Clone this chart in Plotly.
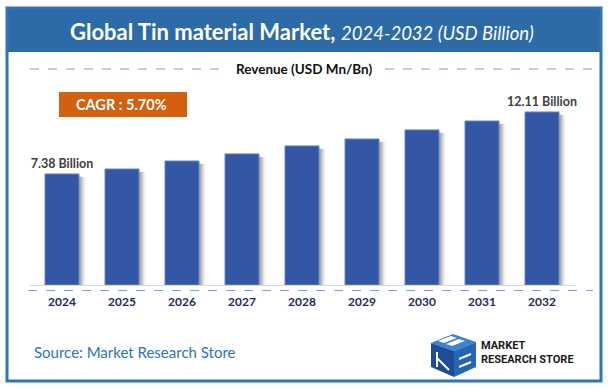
import plotly.graph_objects as go

# ---- data ----
years = ["2024", "2025", "2026", "2027", "2028", "2029", "2030", "2031", "2032"]
revenue = [7.38, 7.76, 8.37, 8.91, 9.52, 10.05, 10.74, 11.42, 12.11]
label_years = ["2024", "2032"]
cagr_text = "CAGR : 5.70%"
title_main = "Global Tin material Market,"
title_sub = "2024-2032 (USD Billion)"
axis_title = "Revenue (USD Mn/Bn)"
source_text = "Source: Market Research Store"

W, H = 608, 389
AXIS_MIN = -1.09
AXIS_MAX = 13.02
BAR_W = 0.567

def px(x):
    return x / W

def py(y):
    return 1 - y / H

labels = [f"{v:.2f} Billion" if y in label_years else "" for y, v in zip(years, revenue)]
lengths = [v - AXIS_MIN for v in revenue]

fig = go.Figure()

# soft shadows on the right side of each bar
for d, col in [(6.5 / 60, "rgba(0,0,0,0.06)"), (4.5 / 60, "rgba(0,0,0,0.12)"), (2.5 / 60, "rgba(0,0,0,0.18)")]:
    fig.add_trace(go.Bar(
        x=years, y=[l - 0.22 for l in lengths], base=AXIS_MIN,
        width=BAR_W, offset=-BAR_W / 2 + d,
        marker=dict(color=col, line=dict(width=0)),
        hoverinfo="skip", showlegend=False,
    ))

fig.add_trace(go.Bar(
    x=years, y=lengths, base=AXIS_MIN,
    width=BAR_W, offset=-BAR_W / 2,
    marker=dict(color="#3357A5", line=dict(color="#6A8BCB", width=1)),
    text=labels, textposition="outside", cliponaxis=False, constraintext="none",
    textfont=dict(family="Lato, Open Sans, sans-serif", size=12.5, color="#404040", weight="bold"),
    hoverinfo="skip", showlegend=False,
))

fig.update_layout(
    width=W, height=H,
    margin=dict(l=0, r=0, t=0, b=0),
    paper_bgcolor="white", plot_bgcolor="white",
    barmode="overlay",
    xaxis=dict(
        domain=[px(32), px(572)], range=[-0.5, 8.5], type="category",
        showgrid=False, zeroline=False,
        showline=False, ticks="", ticklabelstandoff=8,
        tickfont=dict(family="Lato, Open Sans, sans-serif", size=12, color="#1F2A5E", weight="bold"),
    ),
    yaxis=dict(
        domain=[py(285), py(100)], range=[AXIS_MIN, AXIS_MAX],
        visible=False,
    ),
    font=dict(family="Lato, Open Sans, sans-serif"),
)

shapes = [
    # header band
    dict(type="rect", xref="paper", yref="paper", x0=px(6), x1=px(602), y0=py(52), y1=py(7),
         fillcolor="#2C6BA8", line=dict(width=0), layer="below"),
    # outer frame
    dict(type="rect", xref="paper", yref="paper", x0=px(7), x1=px(601), y0=py(381), y1=py(8),
         fillcolor="rgba(0,0,0,0)", line=dict(color="#2E74B5", width=3)),
    # baseline
    dict(type="line", xref="paper", yref="paper", x0=px(30), x1=px(576), y0=py(285.5), y1=py(285.5),
         line=dict(color="#D9D9D9", width=1)),
    # dashed line under years
    dict(type="line", xref="paper", yref="paper", x0=px(28), x1=px(593), y0=py(290.5), y1=py(290.5),
         line=dict(color="#7FA0DA", width=1.2, dash="dash")),
    # dashed lines around axis title
    dict(type="line", xref="paper", yref="paper", x0=px(30), x1=px(225), y0=py(69), y1=py(69),
         line=dict(color="#7FA0DA", width=1.2, dash="dash")),
    dict(type="line", xref="paper", yref="paper", x0=px(385), x1=px(592), y0=py(69), y1=py(69),
         line=dict(color="#7FA0DA", width=1.2, dash="dash")),
    # CAGR box
    dict(type="rect", xref="paper", yref="paper", x0=px(59), x1=px(187), y0=py(117), y1=py(92),
         fillcolor="#D2600F", line=dict(width=0)),
]

# logo (stylised cube)
def poly(pts):
    return "M " + " L ".join(f"{px(a)},{py(b)}" for a, b in pts) + " Z"

shapes += [
    dict(type="path", xref="paper", yref="paper", path=poly([(431, 343), (453, 334), (476, 342), (454, 351)]),
         fillcolor="#3C82D2", line=dict(width=0)),
    dict(type="path", xref="paper", yref="paper", path=poly([(431, 343), (454, 351), (454, 377), (431, 367)]),
         fillcolor="#1B4E94", line=dict(width=0)),
    dict(type="path", xref="paper", yref="paper", path=poly([(454, 351), (476, 342), (476, 367), (454, 377)]),
         fillcolor="#2566B4", line=dict(width=0)),
    dict(type="path", xref="paper", yref="paper", path=poly([(438, 341), (451, 336), (457, 338), (444, 343)]),
         fillcolor="white", line=dict(width=0)),
    dict(type="path", xref="paper", yref="paper", path=poly([(446, 344), (459, 339), (465, 341), (452, 346)]),
         fillcolor="white", line=dict(width=0)),
    dict(type="line", xref="paper", yref="paper", x0=px(437), x1=px(437), y0=py(352), y1=py(367),
         line=dict(color="white", width=2)),
    dict(type="line", xref="paper", yref="paper", x0=px(437), x1=px(449), y0=py(358), y1=py(370),
         line=dict(color="white", width=2)),
    dict(type="line", xref="paper", yref="paper", x0=px(459), x1=px(471), y0=py(359), y1=py(354),
         line=dict(color="white", width=2)),
    dict(type="line", xref="paper", yref="paper", x0=px(459), x1=px(471), y0=py(367), y1=py(362),
         line=dict(color="white", width=2)),
]
fig.update_layout(shapes=shapes)

ann = [
    dict(text=f"<b>{title_main}</b> <i><span style='font-size:18.5px'>{title_sub}</span></i>",
         x=px(302), y=py(31), xref="paper", yref="paper", showarrow=False,
         font=dict(family="Lato, Open Sans, sans-serif", size=22, color="white"), xanchor="center", yanchor="middle"),
    dict(text=f"<b>{axis_title}</b>", x=px(304), y=py(69), xref="paper", yref="paper", showarrow=False,
         font=dict(family="Lato, Open Sans, sans-serif", size=13.5, color="#111111"), xanchor="center", yanchor="middle"),
    dict(text=f"<b>{cagr_text}</b>", x=px(121), y=py(104.5), xref="paper", yref="paper", showarrow=False,
         font=dict(family="Lato, Open Sans, sans-serif", size=14.5, color="white"), xanchor="center", yanchor="middle"),
    dict(text=source_text, x=px(32), y=py(352), xref="paper", yref="paper", showarrow=False,
         font=dict(family="Lato, Open Sans, sans-serif", size=15, color="#2E74B5"), xanchor="left", yanchor="middle"),
    dict(text="<b>MARKET<br>RESEARCH STORE</b>", x=px(479), y=py(352), xref="paper", yref="paper", showarrow=False,
         align="left", font=dict(family="Liberation Sans Narrow, Roboto, sans-serif", size=11, color="#1A1A1A"),
         xanchor="left", yanchor="middle"),
]
fig.update_layout(annotations=ann)

fig.write_html("out.html", config={"displayModeBar": False},
               post_script="document.body.style.margin='0';document.body.style.padding='0';")
